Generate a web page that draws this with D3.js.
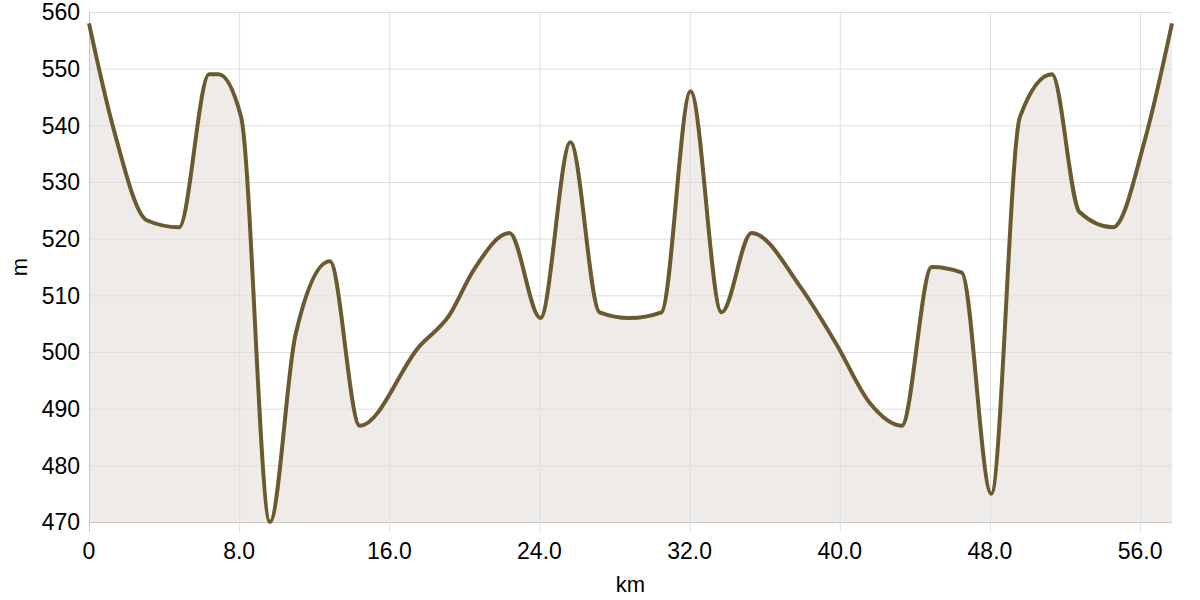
<!DOCTYPE html>
<html>
<head>
<meta charset="utf-8">
<script src="https://d3js.org/d3.v7.min.js"></script>
<style>
  body { margin: 0; background: #fff; }
  svg { display: block; }
  text { font-family: "Liberation Sans", Arial, sans-serif; fill: #000; }
</style>
</head>
<body>
<div id="container"></div>
<script>
// distance along route (km) and elevation (m)
var km = [0, 1.3, 3.1, 4.8, 6.4, 6.9, 8.1, 9.64, 11.0, 12.83, 14.43, 17.6, 19.2, 20.5,
          22.4, 24.05, 25.65, 27.2, 28.8, 30.5, 32.05, 33.7, 35.3, 37.9, 39.8, 41.6,
          43.3, 44.9, 46.5, 48.07, 49.6, 51.3, 52.77, 54.55, 56.3, 57.7];
var elev = [558, 539.5, 523.2, 522, 549, 549, 541.5, 470, 503, 516, 487, 501, 506.5, 514.5,
            521, 506, 537, 507, 506, 507, 546, 507, 521, 511.5, 501.5, 491,
            487, 515, 514, 475, 541.5, 549, 524.7, 522, 538, 558];
var xTicks = [0, 8, 16, 24, 32, 40, 48, 56];
var yTicks = [470, 480, 490, 500, 510, 520, 530, 540, 550, 560];

var width = 1200, height = 600;
var margin = { top: 12, right: 28, bottom: 78, left: 89 };
var innerWidth = width - margin.left - margin.right,
    innerHeight = height - margin.top - margin.bottom;

var data = km.map(function(d, i) { return { x: d, y: elev[i] }; });

var svg = d3.select('#container').append('svg')
  .attr('width', width)
  .attr('height', height);

var g = svg.append('g')
  .attr('transform', 'translate(' + margin.left + ',' + margin.top + ')');

var x = d3.scaleLinear().domain([0, 57.7]).range([0, innerWidth]);
var y = d3.scaleLinear().domain([470, 560]).range([innerHeight, 0]);

// fill under the profile
var area = d3.area()
  .x(function(d) { return x(d.x); })
  .y0(innerHeight)
  .y1(function(d) { return y(d.y); })
  .curve(d3.curveMonotoneX);

g.append('path')
  .datum(data)
  .attr('d', area)
  .attr('fill', '#efebe8');

// grid
g.append('g').selectAll('line').data(yTicks).join('line')
  .attr('x1', 0).attr('x2', innerWidth)
  .attr('y1', function(d) { return y(d) + 0.5; })
  .attr('y2', function(d) { return y(d) + 0.5; })
  .attr('stroke', function(d) { return d === 470 ? '#c8c8c8' : '#dedede'; })
  .attr('stroke-width', 1);

g.append('g').selectAll('line').data(xTicks).join('line')
  .attr('x1', function(d) { return x(d) + 0.5; })
  .attr('x2', function(d) { return x(d) + 0.5; })
  .attr('y1', 0).attr('y2', innerHeight + 10)
  .attr('stroke', function(d) { return d === 0 ? '#c8c8c8' : '#dedede'; })
  .attr('stroke-width', 1);

// profile line
var line = d3.line()
  .x(function(d) { return x(d.x); })
  .y(function(d) { return y(d.y); })
  .curve(d3.curveMonotoneX);

g.append('path')
  .datum(data)
  .attr('d', line)
  .attr('fill', 'none')
  .attr('stroke', '#6b5a2f')
  .attr('stroke-width', 4)
  .attr('stroke-linejoin', 'round');

// tick labels
g.append('g').selectAll('text').data(yTicks).join('text')
  .attr('x', -9)
  .attr('y', function(d) { return y(d); })
  .attr('dy', '0.36em')
  .attr('text-anchor', 'end')
  .attr('font-size', 23)
  .text(function(d) { return d; });

g.append('g').selectAll('text').data(xTicks).join('text')
  .attr('x', function(d) { return x(d); })
  .attr('y', innerHeight + 37)
  .attr('text-anchor', 'middle')
  .attr('font-size', 23)
  .text(function(d) { return d === 0 ? '0' : d3.format('.1f')(d); });

// axis titles
svg.append('text')
  .attr('x', margin.left + innerWidth / 2)
  .attr('y', 592)
  .attr('text-anchor', 'middle')
  .attr('font-size', 22)
  .text('km');

svg.append('text')
  .attr('transform', 'translate(27,' + (margin.top + innerHeight / 2) + ') rotate(-90)')
  .attr('text-anchor', 'middle')
  .attr('font-size', 22)
  .text('m');
</script>
</body>
</html>
